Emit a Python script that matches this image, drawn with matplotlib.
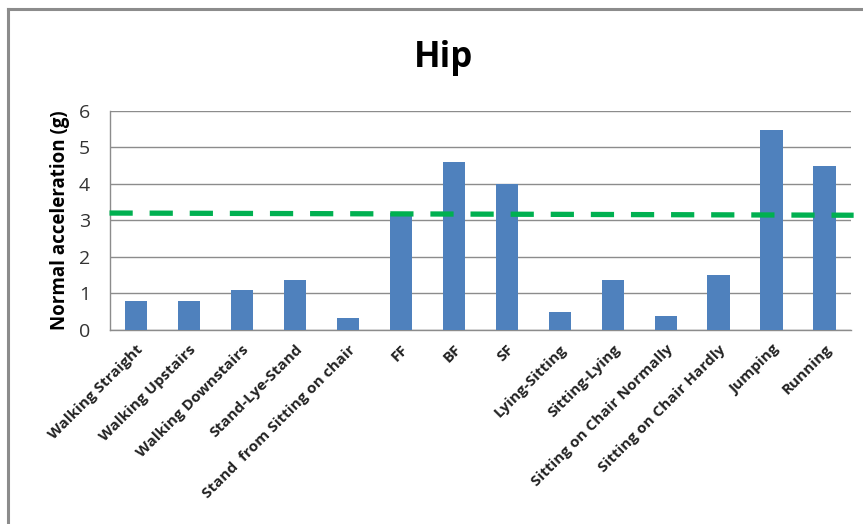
import matplotlib
matplotlib.use("Agg")
import matplotlib.pyplot as plt
from matplotlib.lines import Line2D

categories = ["Walking Straight", "Walking Upstairs", "Walking Downstairs", "Stand-Lye-Stand",
              "Stand  from Sitting on chair", "FF", "BF", "SF", "Lying-Sitting", "Sitting-Lying",
              "Sitting on Chair Normally", "Sitting on Chair Hardly", "Jumping", "Running"]
values = [0.78, 0.78, 1.1, 1.38, 0.33, 3.2, 4.6, 4.0, 0.48, 1.38, 0.38, 1.5, 5.48, 4.5]
threshold_ends = [3.2, 3.14]
yticks = [0, 1, 2, 3, 4, 5, 6]

W, H = 863, 524
fig = plt.figure(figsize=(W / 100, H / 100), dpi=100)
plt.rcParams['font.family'] = ['Open Sans', 'DejaVu Sans']

left, right, top, bottom = 109.5, 851, 110.7, 330
ax = fig.add_axes([left / W, 1 - bottom / H, (right - left) / W, (bottom - top) / H])

x = range(len(categories))
ax.bar(x, values, width=0.42, color="#4F81BD", zorder=3)
ax.plot([-0.5, len(categories) - 0.45], threshold_ends, color="#00B050", lw=3.8,
        dashes=(4.4, 3.2), zorder=4, solid_capstyle='butt', clip_on=False)

ax.set_xlim(-0.5, len(categories) - 0.5)
ax.set_ylim(0, 6)
ax.set_yticks(yticks)
ax.set_yticklabels([str(t) for t in yticks], fontsize=14, color="#333333")
ax.yaxis.grid(True, color="#8C8C8C", lw=1.0, zorder=0)
ax.set_axisbelow(True)
for s in ["top", "right"]:
    ax.spines[s].set_visible(False)
for s in ["bottom", "left"]:
    ax.spines[s].set_color("#8C8C8C")
    ax.spines[s].set_linewidth(1.0)
ax.tick_params(axis="y", length=0, pad=14)
ax.tick_params(axis="x", length=0, pad=9)
ax.set_xticks(list(x))
ax.set_xticklabels(categories, rotation=45, ha="right", rotation_mode="anchor",
                   fontsize=11, fontweight="bold", color="#222222")
ax.set_ylabel("Normal acceleration (g)", fontsize=13.5, fontweight="bold", labelpad=6)

fig.text(443 / W, 1 - 67 / H, "Hip", ha="center", va="baseline", fontsize=25, fontweight="bold")

fig.add_artist(Line2D([8 / W, 1], [1 - 9 / H, 1 - 9 / H], color="#8C8C8C", lw=2.2,
                      transform=fig.transFigure))
fig.add_artist(Line2D([8 / W, 8 / W], [0, 1 - 9 / H], color="#8C8C8C", lw=2.2,
                      transform=fig.transFigure))

fig.savefig("out.png", dpi=100)
